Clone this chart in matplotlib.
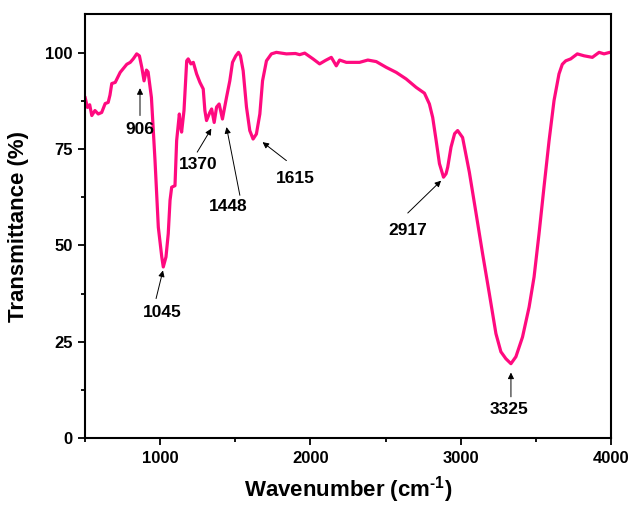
import numpy as np
import matplotlib
matplotlib.use("Agg")
import matplotlib.pyplot as plt
import matplotlib as mpl
from matplotlib.ticker import MultipleLocator

# mpl setup
mpl.rcParams['font.family'] = ['Liberation Sans', 'DejaVu Sans']
mpl.rcParams['font.weight'] = 'bold'
mpl.rcParams['mathtext.fontset'] = 'custom'
mpl.rcParams['mathtext.rm'] = 'Liberation Sans'
mpl.rcParams['mathtext.bf'] = 'Liberation Sans:bold'

# FTIR spectrum
wavenumber = [500, 515, 530, 544, 565, 587, 610, 633, 653, 665, 677, 700, 733, 777,
              800, 820, 843, 861, 877, 892, 908, 919, 941, 965, 987, 1010, 1020, 1038,
              1053, 1065, 1076, 1098, 1109, 1127, 1136, 1142, 1158, 1176, 1186, 1204,
              1220, 1242, 1264, 1286, 1297, 1308, 1330, 1342, 1359, 1375, 1392, 1414,
              1441, 1463, 1481, 1503, 1521, 1534, 1552, 1574, 1596, 1618, 1640, 1663,
              1681, 1707, 1740, 1773, 1840, 1900, 1928, 1962, 2017, 2061, 2100, 2139,
              2172, 2194, 2239, 2327, 2382, 2438, 2505, 2571, 2637, 2704, 2759, 2792,
              2814, 2837, 2859, 2886, 2903, 2914, 2936, 2960, 2980, 3013, 3058, 3102,
              3146, 3191, 3235, 3268, 3301, 3335, 3368, 3412, 3456, 3489, 3522, 3555,
              3589, 3622, 3655, 3677, 3700, 3733, 3777, 3822, 3877, 3922, 3955, 3993, 4000]
transmittance = [88.3, 85.8, 86.5, 83.7, 85.0, 84.1, 84.5, 86.8, 87.1, 89.0, 92.0, 92.3, 94.9, 97.0,
                 97.5, 98.4, 99.7, 99.2, 96.2, 92.7, 95.5, 95.0, 88.4, 72.0, 54.7, 47.0, 44.4, 47.0,
                 53.0, 61.7, 65.1, 65.5, 77.2, 84.1, 80.7, 79.4, 85.0, 97.9, 98.4, 97.1,
                 97.5, 94.5, 92.3, 90.6, 85.0, 82.4, 84.5, 85.4, 81.9, 85.9, 86.7, 82.8,
                 88.4, 92.7, 97.5, 99.2, 100.1, 99.2, 95.3, 85.9, 79.8, 77.6, 78.9, 84.1,
                 92.7, 97.9, 99.7, 100.1, 99.7, 99.8, 99.5, 99.9, 98.4, 97.1, 98.0, 98.8,
                 96.6, 98.1, 97.5, 97.5, 98.1, 97.7, 96.2, 94.9, 93.2, 91.0, 89.5, 86.7,
                 83.2, 77.2, 71.2, 67.7, 68.6, 70.3, 75.5, 79.0, 79.8, 78.0, 69.0, 58.5,
                 47.9, 37.5, 27.1, 22.4, 20.6, 19.3, 21.1, 26.2, 34.0, 41.8, 53.0, 65.1,
                 77.2, 87.6, 94.5, 97.0, 97.9, 98.4, 99.7, 99.2, 98.8, 100.1, 99.7, 100.1, 100.0]

peak_labels = ["906", "1045", "1370", "1448", "1615", "2917", "3325"]

# (text x, text y, arrow tail, arrow tip) for each peak label
label_layout = [
    ((865, 80.0), (865, 83.7), (865, 90.8)),
    ((1016, 32.5), (972, 36.2), (1018, 43.5)),
    ((1253, 71.0), (1246, 74.2), (1340, 80.3)),
    ((1452, 60.2), (1530, 63.0), (1441, 80.7)),
    ((1902, 67.4), (1840, 72.0), (1681, 76.8)),
    ((2646, 53.9), (2648, 58.4), (2870, 66.8)),
    ((3324, 7.5), (3335, 10.7), (3335, 17.0)),
]

fig = plt.figure(figsize=(6.31, 5.07), dpi=100)
ax = fig.add_axes([0.135, 0.136, 0.833, 0.836])

ax.plot(wavenumber, transmittance, color="#ff0a7f", lw=2.3, solid_joinstyle='round')

for lab, (txt, tail, tip) in zip(peak_labels, label_layout):
    ax.text(txt[0], txt[1], lab, ha='center', va='center', fontsize=12.5, fontweight='bold')
    ax.annotate('', xy=tip, xytext=tail,
                arrowprops=dict(arrowstyle='-|>', color='black', lw=0.7,
                                mutation_scale=9, shrinkA=0, shrinkB=0))

ax.set_xlim(500, 4000)
ax.set_ylim(0, 110)
ax.xaxis.set_major_locator(MultipleLocator(1000))
ax.xaxis.set_minor_locator(MultipleLocator(500))
ax.yaxis.set_major_locator(MultipleLocator(25))
ax.yaxis.set_minor_locator(MultipleLocator(12.5))
ax.set_xticks([1000, 2000, 3000, 4000])
ax.tick_params(which='major', direction='out', length=5, width=1.3, labelsize=12, pad=4)
ax.tick_params(which='minor', direction='out', length=3, width=1.3)
for s in ax.spines.values():
    s.set_linewidth(1.5)

ax.set_xlabel(r'Wavenumber (cm$^{\mathbf{\text{-}1}}$)', fontsize=16, fontweight='bold', labelpad=6)
ax.set_ylabel('Transmittance (%)', fontsize=16, fontweight='bold', labelpad=12)

plt.savefig("out.png", dpi=100)
plt.close()
